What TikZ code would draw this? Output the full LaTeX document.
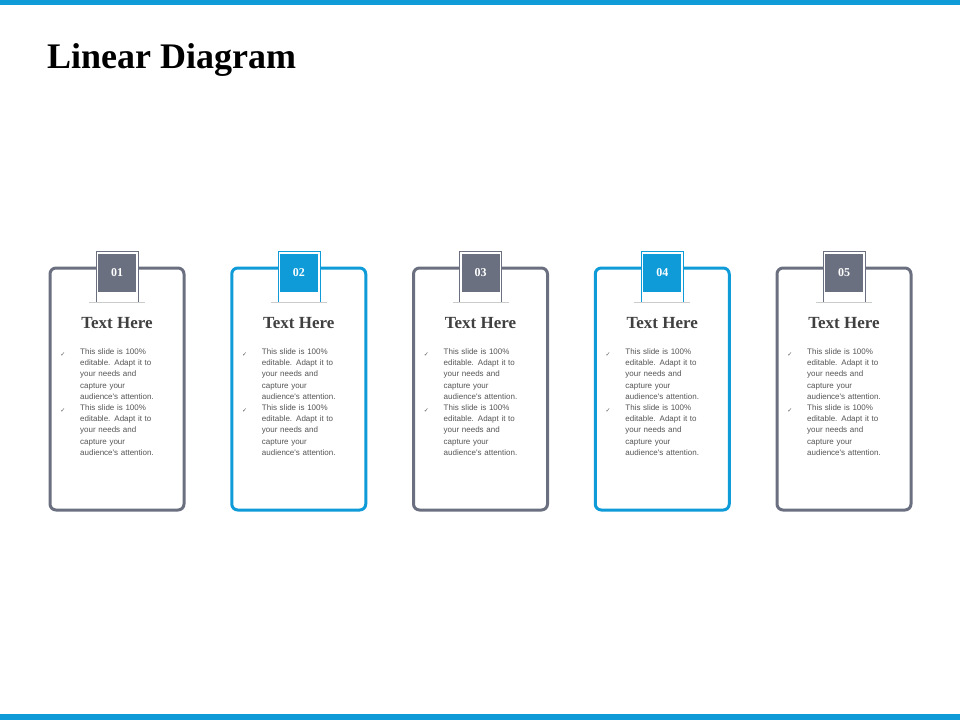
\documentclass[tikz,border=0pt]{standalone}
\usepackage{fontspec}
\setmainfont{Liberation Serif}
\newfontfamily\bodyfont{Liberation Sans}
\newfontfamily\symfont{DejaVu Sans}
\usetikzlibrary{positioning}
\definecolor{cardgray}{HTML}{6B7080}
\definecolor{cardblue}{HTML}{0E9BD8}
\definecolor{txtgray}{HTML}{555555}
\tikzset{
  card/.style={draw=#1, line width=3pt, rounded corners=6pt, minimum width=134pt, minimum height=242pt},
  numbox/.style={fill=#1, minimum width=38pt, minimum height=38pt, inner sep=0pt, text=white, font=\bfseries\fontsize{12}{12}\selectfont},
  bullet/.style={align=left, text width=90pt, inner sep=0pt, text=txtgray, font=\bodyfont\fontsize{8}{11.2}\selectfont},
}
\begin{document}
\begin{tikzpicture}[x=1pt,y=-1pt]
    \useasboundingbox (0,0) rectangle (960,720);
    \fill[cardblue] (0,0) rectangle (960,5);
    \fill[cardblue] (0,714) rectangle (960,720);
    \node[anchor=base west, inner sep=0pt, font=\bfseries\fontsize{36}{36}\selectfont] (title) at (47,68) {Linear Diagram};

    \foreach \i/\c in {1/cardgray,2/cardblue,3/cardgray,4/cardblue,5/cardgray} {
      \pgfmathsetmacro{\cx}{117+181.75*(\i-1)}
      \node[card=\c, fill=white] (card\i) at (\cx,389) {};
      \fill[white] (\cx-21,266) rectangle (\cx+21,272);
      \draw[\c, thin] (\cx-21,251) rectangle (\cx+21,302);
      \draw[gray!40] (\cx-28,302.5) -- (\cx+28,302.5);
      \node[numbox=\c] (num\i) at (\cx,272.5) {0\i};
      \node[font=\bfseries\fontsize{17}{17}\selectfont, text=black!75] (head\i) at (\cx,323) {Text Here};
      \node[bullet, anchor=north west] (txt\i a) at (\cx-37,348.5) {This slide is 100\%\\editable. Adapt it to\\your needs and\\capture your\\audience's attention.};
      \node[bullet, anchor=north west] (txt\i b) at (\cx-37,404.5) {This slide is 100\%\\editable. Adapt it to\\your needs and\\capture your\\audience's attention.};
      \node[font=\symfont\fontsize{6}{6}\selectfont, text=txtgray, anchor=north] (chk\i a) at (\cx-54,349.5) {✓};
      \node[font=\symfont\fontsize{6}{6}\selectfont, text=txtgray, anchor=north] (chk\i b) at (\cx-54,405.5) {✓};
    }
\end{tikzpicture}
\end{document}
